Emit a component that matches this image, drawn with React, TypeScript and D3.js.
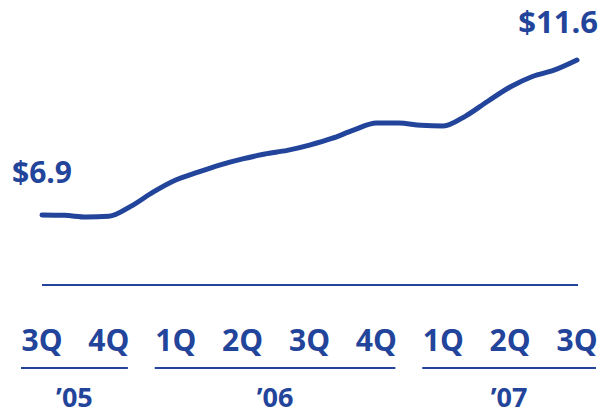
import React from "react";
import * as d3 from "d3";

// Monthly index from Sep '05 (0) to Sep '07 (24)
const months: number[] = Array.from({ length: 25 }, (_, i) => i);
const values: number[] = [
  6.9, 6.89, 6.84, 6.86, 7.17, 7.6, 7.96, 8.2, 8.42, 8.6, 8.75, 8.86, 9.02,
  9.22, 9.48, 9.69, 9.69, 9.62, 9.6, 9.9, 10.35, 10.78, 11.1, 11.3, 11.6,
];
const quarterLabels: string[] = ["3Q", "4Q", "1Q", "2Q", "3Q", "4Q", "1Q", "2Q", "3Q"];
const yearLabels: string[] = ["’05", "’06", "’07"];
const yearStart: number[] = [0, 2, 6];
const yearEnd: number[] = [1, 5, 8];
const startLabel = "$6.9";
const endLabel = "$11.6";

const COLOR = "#22449a";
const FONT = "'Open Sans', 'DejaVu Sans', sans-serif";

export default function App() {
  const W = 601;
  const H = 414;
  const x = d3.scaleLinear().domain([0, 8]).range([42, 577]);
  const y = d3.scaleLinear().domain([6.9, 11.6]).range([215, 60]);
  const line = d3
    .line<number>()
    .x((_, i) => x(months[i] / 3))
    .y((d) => y(d))
    .curve(d3.curveMonotoneX);

  return (
    <svg
      width={W}
      height={H}
      style={{ position: "absolute", left: 0, top: 0 }}
      fontFamily={FONT}
    >
      <rect width={W} height={H} fill="#fff" />
      <path
        d={line(values) || ""}
        fill="none"
        stroke={COLOR}
        strokeWidth={5}
        strokeLinecap="round"
        strokeLinejoin="round"
      />
      <text x={12} y={183} fill={COLOR} fontSize={30} fontWeight={700}>
        {startLabel}
      </text>
      <text x={598} y={33} fill={COLOR} fontSize={31} fontWeight={700} textAnchor="end">
        {endLabel}
      </text>
      <line x1={x(0)} x2={x(8) + 1} y1={285} y2={285} stroke={COLOR} strokeWidth={2} />
      {quarterLabels.map((q, i) => (
        <text
          key={i}
          x={x(i)}
          y={351}
          fill={COLOR}
          fontSize={30}
          fontWeight={700}
          textAnchor="middle"
        >
          {q}
        </text>
      ))}
      {yearLabels.map((yl, i) => {
        const x1 = x(yearStart[i]) - 21;
        const x2 = x(yearEnd[i]) + 19;
        return (
          <g key={i}>
            <line x1={x1} x2={x2} y1={368} y2={368} stroke={COLOR} strokeWidth={2} />
            <text
              x={(x1 + x2) / 2}
              y={407}
              fill={COLOR}
              fontSize={27}
              fontWeight={700}
              textAnchor="middle"
            >
              {yl}
            </text>
          </g>
        );
      })}
    </svg>
  );
}
